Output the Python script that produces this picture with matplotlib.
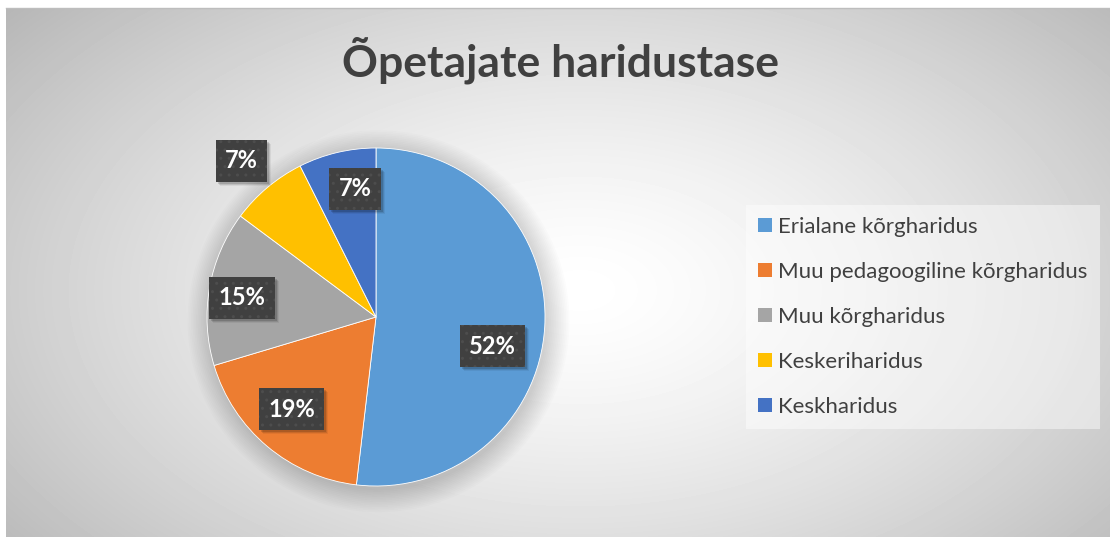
import numpy as np
import matplotlib.pyplot as plt
import matplotlib.transforms as mtransforms
from matplotlib.patches import Patch, Circle, Rectangle

plt.rcParams['font.family'] = ['Lato', 'DejaVu Sans']
plt.rcParams['hatch.linewidth'] = 1.0

# data
title = "Õpetajate haridustase"
categories = ["Erialane kõrgharidus", "Muu pedagoogiline kõrgharidus",
              "Muu kõrgharidus", "Keskeriharidus", "Keskharidus"]
counts = [14, 5, 4, 2, 2]
colors = ["#5B9BD5", "#ED7D31", "#A5A5A5", "#FFC000", "#4472C4"]

# label placement (radius fraction, angle tweak in degrees)
lab_dist = [0.71, 0.74, 0.80, 1.22, 0.77]
lab_turn = [-10.7, -2.4, 1.9, 0.7, -4.0]

W, H = 1110, 537
fig = plt.figure(figsize=(W / 100, H / 100), dpi=100)
fig.patch.set_facecolor("white")

# chart area background with radial gradient
bx0, by0 = 6, 8
bg = fig.add_axes([bx0 / W, 0, 1 - bx0 / W, 1 - by0 / H])
yy, xx = np.mgrid[by0:H, bx0:W]
cx, cy = 580, 290
d = np.sqrt(((xx - cx) / 680.0) ** 2 + ((yy - cy) / 400.0) ** 2)
v = 1 - 0.25 * np.clip(d, 0, 1.1) ** 1.4
bg.imshow(v, cmap="gray", vmin=0, vmax=1, aspect="auto", interpolation="bilinear")
bg.set_xticks([])
bg.set_yticks([])
for s in ["left", "right", "bottom"]:
    bg.spines[s].set_visible(False)
bg.spines["top"].set_color("#bdbdbd")
bg.spines["top"].set_linewidth(1.0)

fig.text(560 / W, 1 - 60 / H, title, ha="center", va="center",
         fontsize=32, fontweight="bold", color="#404040")

# pie
pcx, pcy, r = 376, 317, 169
ax = fig.add_axes([(pcx - r) / W, 1 - (pcy + r) / H, 2 * r / W, 2 * r / H])

# soft shadow under the pie
for i in range(14):
    ax.add_patch(Circle((0.015, -0.025), 1.0 + 0.01 * i, color="black",
                        alpha=0.01, lw=0, zorder=0, clip_on=False))

wedges, _ = ax.pie(counts, colors=colors, startangle=90, counterclock=False,
                   radius=1.0, wedgeprops=dict(edgecolor="white", linewidth=0.6))
for w in wedges:
    w.set_zorder(2)
ax.set_xlim(-1, 1)
ax.set_ylim(-1, 1)
ax.axis("off")

total = sum(counts)
labels = []
for w, c, dist, turn in zip(wedges, counts, lab_dist, lab_turn):
    mid = np.deg2rad((w.theta1 + w.theta2) / 2 + turn)
    pct = "{:.0f}%".format(100 * c / total)
    t = ax.text(dist * np.cos(mid), dist * np.sin(mid), pct, ha="center", va="center",
                fontsize=17, fontweight="bold", color="white", zorder=5,
                bbox=dict(boxstyle="square,pad=0.4", fc="#404040", ec="#4d4d4d",
                          lw=0, hatch=".."))
    labels.append(t)

# soft shadows behind the label boxes
fig.canvas.draw()
for t in labels:
    bb = t.get_bbox_patch().get_window_extent()
    for k, a in [(4, 0.06), (3, 0.1), (2, 0.14)]:
        ax.add_patch(Rectangle((bb.x0 + k, bb.y0 - k), bb.width, bb.height,
                               transform=mtransforms.IdentityTransform(),
                               fc="black", alpha=a, lw=0, zorder=4, clip_on=False))

handles = [Patch(facecolor=col, edgecolor="none") for col in colors]
leg = fig.legend(handles, categories, loc="center left",
                 bbox_to_anchor=(746 / W, 1 - 317 / H),
                 fontsize=16, frameon=True, fancybox=False,
                 handlelength=0.6, handleheight=0.6, handletextpad=0.3,
                 labelspacing=1.13, borderpad=0.55, borderaxespad=0)
frame = leg.get_frame()
frame.set_facecolor("white")
frame.set_alpha(0.45)
frame.set_edgecolor("none")
for txt in leg.get_texts():
    txt.set_color("#404040")

fig.savefig("out.png", dpi=100)
